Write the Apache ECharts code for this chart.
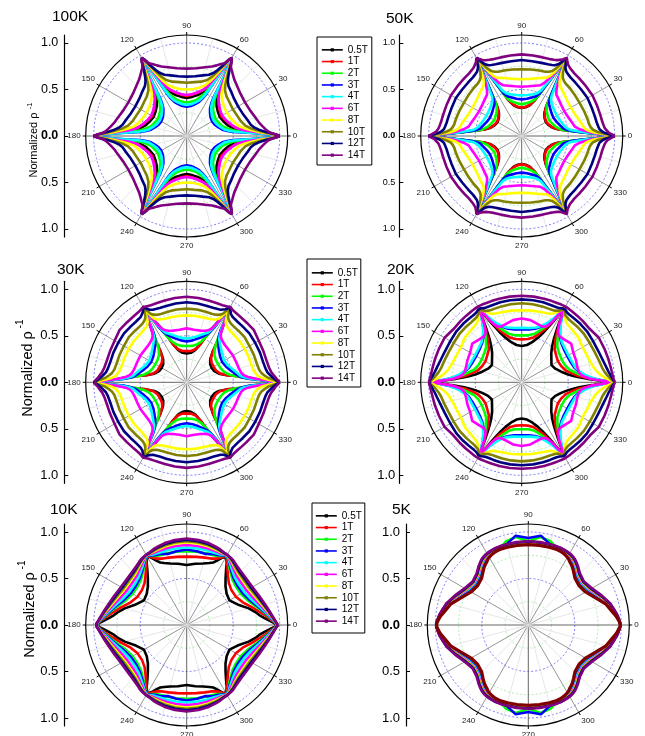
<!DOCTYPE html>
<html><head><meta charset="utf-8">
<script src="https://cdn.jsdelivr.net/npm/echarts@6/dist/echarts.min.js"></script>
<style>html,body{margin:0;padding:0;background:#fff}#c{width:645px;height:736px}</style>
</head><body><div id="c"></div>
<script>
// ---------------- DATA ----------------
const FIELDS = ['0.5T','1T','2T','3T','4T','6T','8T','10T','12T','14T'];
const COLORS = ['#000000','#ff0000','#00ff00','#0000ff','#00ffff','#ff00ff','#ffff00','#808000','#000080','#800080'];
const FIT_COLOR = '#800000';
// angles (deg) of the quadrant 0..90 at which radii are read
const ANGLES = [0,1,2,3,5,7,10,15,22,30,38,45,50,53,55,57,58,59,60,61,62,63,65,67,70,75,82,90];
const ANGLE_TICKS = [0,30,60,90,120,150,180,210,240,270,300,330];
const RADIUS_TICK_LABELS = ['1.0','0.5','0.0','0.5','1.0'];

// six-fold panels: profile from the 0deg tip (0..30deg) and from the 60deg tip toward 90deg
// (offsets 0,1,2,3,5,7,10,15,22,30 deg from the tip); rows follow FIELDS
const K100_TIP0 = [
 [1,.92,.82,.73,.62,.56,.50,.455,.425,.41],
 [1,.93,.84,.75,.645,.585,.53,.485,.45,.43],
 [1,.91,.80,.70,.57,.50,.45,.40,.375,.36],
 [1,.89,.77,.66,.50,.44,.39,.355,.325,.315],
 [1,.90,.78,.67,.52,.46,.41,.375,.345,.335],
 [1,.93,.84,.76,.65,.585,.53,.49,.455,.44],
 [1,.94,.86,.79,.70,.64,.58,.54,.51,.50],
 [1,.95,.88,.83,.75,.69,.64,.605,.585,.573],
 [1,.96,.90,.85,.78,.735,.70,.675,.648,.638],
 [1,.96,.91,.88,.85,.825,.795,.765,.735,.724]];
const K100_TIP60 = [
 [.97,.90,.81,.725,.62,.56,.50,.455,.425,.41],
 [.97,.91,.83,.745,.645,.585,.53,.485,.45,.43],
 [.97,.89,.79,.695,.57,.50,.45,.40,.375,.36],
 [.97,.87,.76,.655,.50,.44,.39,.355,.325,.315],
 [.97,.88,.77,.665,.52,.46,.41,.375,.345,.335],
 [.97,.91,.83,.755,.65,.585,.53,.49,.455,.44],
 [.97,.92,.85,.785,.70,.64,.58,.54,.51,.50],
 [.97,.93,.87,.825,.75,.69,.64,.605,.585,.573],
 [.97,.94,.89,.845,.78,.735,.70,.675,.648,.638],
 [.97,.94,.90,.875,.85,.825,.795,.765,.735,.724]];

const K50_TIP0 = [
 [1,.88,.78,.70,.58,.49,.405,.345,.312,.30],
 [1,.88,.78,.70,.58,.49,.41,.35,.318,.305],
 [1,.88,.77,.68,.57,.48,.42,.38,.355,.34],
 [1,.88,.77,.68,.57,.50,.455,.43,.405,.394],
 [1,.89,.79,.70,.60,.53,.49,.465,.445,.437],
 [1,.90,.81,.74,.67,.62,.58,.56,.54,.53],
 [1,.91,.83,.77,.71,.68,.665,.643,.62,.61],
 [1,.93,.87,.82,.77,.75,.735,.73,.722,.717],
 [1,.95,.90,.87,.84,.83,.82,.814,.812,.817],
 [1,.97,.94,.92,.90,.89,.88,.875,.874,.878]];
const K50_TIP60 = [
 [.97,.86,.77,.695,.58,.49,.405,.345,.312,.30],
 [.97,.86,.77,.695,.58,.49,.41,.35,.318,.305],
 [.97,.86,.76,.675,.57,.48,.42,.38,.355,.34],
 [.97,.86,.76,.675,.57,.50,.455,.43,.405,.394],
 [.97,.87,.78,.695,.60,.53,.49,.465,.445,.437],
 [.97,.88,.80,.735,.67,.62,.58,.56,.54,.53],
 [.97,.89,.82,.765,.71,.68,.665,.643,.62,.61],
 [.97,.91,.86,.815,.77,.75,.735,.73,.722,.717],
 [.97,.93,.89,.865,.84,.83,.82,.814,.812,.817],
 [.97,.95,.93,.915,.90,.89,.88,.875,.874,.878]];

const K30_TIP0 = [
 [1,.87,.79,.73,.64,.55,.44,.36,.32,.31],
 [1,.87,.78,.71,.62,.54,.44,.37,.34,.335],
 [1,.87,.77,.69,.60,.53,.47,.42,.395,.39],
 [1,.87,.77,.68,.60,.56,.53,.49,.455,.44],
 [1,.88,.78,.70,.62,.58,.555,.52,.48,.465],
 [1,.90,.81,.74,.66,.62,.595,.58,.575,.575],
 [1,.93,.87,.82,.77,.75,.73,.72,.72,.72],
 [1,.96,.92,.88,.84,.81,.79,.78,.78,.78],
 [1,.97,.95,.93,.90,.875,.86,.85,.85,.85],
 [1,.985,.97,.955,.935,.915,.90,.89,.89,.895]];
const K30_TIP60 = [
 [.94,.85,.78,.72,.63,.55,.44,.36,.32,.31],
 [.94,.85,.77,.70,.62,.54,.44,.37,.34,.335],
 [.94,.84,.75,.68,.60,.53,.47,.42,.395,.39],
 [.94,.84,.75,.67,.60,.56,.53,.49,.455,.44],
 [.94,.85,.76,.69,.62,.58,.555,.52,.485,.47],
 [.94,.84,.77,.71,.64,.61,.59,.575,.57,.58],
 [.94,.85,.80,.77,.745,.735,.725,.72,.72,.72],
 [.94,.88,.84,.82,.80,.79,.785,.785,.79,.792],
 [.94,.91,.89,.875,.86,.855,.85,.85,.855,.86],
 [.94,.93,.925,.92,.915,.912,.91,.91,.915,.92]];

const K20_TIP0 = [
 [1,.86,.78,.71,.62,.56,.50,.44,.39,.37],
 [1,.87,.80,.74,.66,.60,.55,.49,.46,.45],
 [1,.88,.81,.76,.69,.64,.59,.53,.50,.495],
 [1,.88,.82,.77,.71,.67,.63,.59,.57,.565],
 [1,.89,.83,.78,.72,.68,.64,.60,.585,.58],
 [1,.88,.80,.74,.68,.645,.625,.62,.63,.64],
 [1,.96,.93,.90,.86,.83,.80,.775,.76,.755],
 [1,.98,.96,.945,.92,.90,.88,.865,.85,.845],
 [1,.99,.98,.97,.955,.94,.925,.905,.89,.886],
 [1,.995,.99,.985,.98,.975,.97,.965,.96,.958]];
const K20_TIP60 = [
 [.92,.84,.77,.71,.63,.57,.51,.45,.405,.39],
 [.92,.85,.79,.74,.67,.61,.56,.50,.47,.462],
 [.92,.86,.80,.76,.70,.65,.60,.54,.51,.505],
 [.92,.85,.81,.77,.72,.68,.64,.60,.575,.57],
 [.92,.86,.82,.78,.73,.69,.65,.61,.59,.585],
 [.92,.85,.79,.74,.68,.65,.64,.65,.675,.685],
 [.92,.89,.87,.85,.82,.80,.79,.782,.778,.775],
 [.92,.89,.87,.86,.85,.845,.843,.845,.848,.85],
 [.92,.91,.90,.895,.89,.888,.888,.89,.891,.892],
 [.94,.94,.94,.938,.935,.933,.932,.931,.93,.93]];

// 10K and 5K: full quadrant radii at ANGLES
const K10_QUAD = [
 [.97,.95,.92,.89,.84,.80,.76,.69,.59,.53,.545,.59,.65,.70,.74,.79,.81,.83,.85,.84,.82,.80,.76,.73,.71,.685,.665,.645],
 [.97,.96,.94,.92,.88,.85,.80,.73,.65,.61,.61,.64,.69,.73,.76,.80,.82,.84,.855,.845,.83,.815,.79,.775,.76,.75,.74,.735],
 [.973,.963,.946,.929,.897,.871,.83,.772,.707,.672,.671,.694,.734,.766,.79,.82,.834,.849,.86,.854,.844,.834,.819,.81,.802,.799,.795,.794],
 [.974,.964,.948,.932,.902,.878,.84,.786,.726,.692,.691,.712,.748,.778,.80,.826,.839,.852,.862,.857,.848,.84,.828,.822,.816,.79,.80,.813],
 [.975,.965,.95,.935,.908,.885,.85,.80,.745,.713,.711,.73,.763,.79,.81,.833,.844,.855,.864,.86,.853,.847,.838,.834,.83,.831,.831,.833],
 [.977,.967,.953,.94,.916,.896,.865,.821,.774,.744,.741,.757,.785,.808,.825,.842,.851,.86,.866,.864,.86,.856,.852,.852,.851,.855,.858,.862],
 [.978,.968,.956,.943,.923,.905,.878,.839,.798,.771,.768,.78,.804,.824,.838,.851,.857,.863,.868,.868,.866,.864,.864,.867,.869,.876,.882,.887],
 [.979,.969,.957,.946,.927,.91,.885,.849,.812,.785,.782,.793,.814,.832,.845,.855,.861,.866,.869,.87,.869,.869,.871,.875,.879,.888,.895,.901],
 [.979,.969,.959,.948,.931,.915,.893,.86,.827,.802,.798,.807,.826,.842,.853,.86,.865,.868,.871,.872,.873,.874,.879,.885,.891,.901,.91,.917],
 [.98,.97,.96,.95,.935,.92,.90,.87,.84,.816,.812,.82,.836,.85,.86,.865,.868,.87,.872,.874,.876,.878,.885,.893,.90,.912,.922,.93]];

const K5_QUAD = [
 [.99,.986,.981,.972,.957,.939,.910,.872,.791,.722,.70,.721,.766,.796,.811,.825,.834,.843,.848,.852,.857,.861,.866,.87,.873,.871,.869,.87],
 [.99,.986,.981,.973,.959,.941,.914,.876,.798,.73,.708,.729,.774,.803,.818,.831,.84,.848,.853,.857,.861,.865,.87,.874,.876,.875,.872,.874],
 [.99,.987,.982,.974,.961,.945,.919,.883,.808,.742,.718,.74,.785,.813,.828,.841,.849,.856,.86,.864,.868,.871,.875,.879,.881,.93,.955,.90],
 [.99,.987,.982,.975,.962,.946,.921,.885,.812,.746,.722,.744,.789,.817,.832,.844,.852,.859,.863,.866,.87,.873,.877,.881,.882,.90,.97,.935],
 [.99,.988,.983,.976,.963,.949,.924,.89,.819,.754,.729,.751,.796,.824,.839,.851,.858,.864,.868,.871,.874,.877,.881,.884,.886,.885,.883,.884],
 [.99,.988,.983,.977,.965,.951,.928,.894,.826,.762,.736,.759,.804,.831,.846,.857,.864,.869,.873,.876,.879,.881,.885,.888,.889,.888,.887,.888],
 [.99,.989,.984,.978,.966,.954,.931,.899,.833,.77,.743,.766,.811,.838,.853,.864,.87,.875,.878,.88,.883,.885,.889,.891,.892,.892,.891,.891],
 [.99,.989,.984,.978,.967,.956,.934,.902,.837,.776,.747,.772,.817,.842,.857,.868,.874,.878,.881,.884,.886,.888,.891,.894,.894,.894,.893,.894],
 [.99,.99,.985,.979,.969,.958,.937,.906,.843,.782,.753,.778,.823,.848,.863,.874,.879,.883,.885,.887,.89,.891,.894,.897,.897,.897,.896,.897],
 [.99,.99,.985,.98,.97,.96,.94,.91,.85,.79,.76,.785,.83,.855,.87,.88,.885,.888,.89,.892,.894,.895,.898,.90,.90,.90,.90,.90]];
const K5_FIT = [.99,.985,.98,.97,.955,.935,.905,.865,.78,.71,.69,.71,.755,.785,.80,.815,.825,.835,.84,.845,.85,.855,.86,.865,.868,.866,.863,.865];

// ---------------- BUILD ----------------
function quadFromProfiles(a, c) { return a.concat(c.slice(0, 9).reverse(), c.slice(1)); }
function fullCircle(q) {
  const n = ANGLES.length, pts = [];
  for (let i = 0; i < n; i++) pts.push([q[i], ANGLES[i]]);
  for (let i = n - 2; i >= 0; i--) pts.push([q[i], 180 - ANGLES[i]]);
  for (let i = 1; i < n; i++) pts.push([q[i], 180 + ANGLES[i]]);
  for (let i = n - 2; i >= 0; i--) pts.push([q[i], 360 - ANGLES[i]]);
  return pts;
}
const QUADS = [
  K100_TIP0.map((a, i) => quadFromProfiles(a, K100_TIP60[i])),
  K50_TIP0.map((a, i) => quadFromProfiles(a, K50_TIP60[i])),
  K30_TIP0.map((a, i) => quadFromProfiles(a, K30_TIP60[i])),
  K20_TIP0.map((a, i) => quadFromProfiles(a, K20_TIP60[i])),
  K10_QUAD,
  K5_QUAD
];

const FONT = '"Liberation Sans", Arial, sans-serif';
const R_PX = 101, R_MAX = 1.086;
const LAYOUT = [
  {title:'100K', tx:52, ty:9,   cx:186.7, cy:136,   ax:64.3, lfs:12.5, lm:6},
  {title:'50K',  tx:386, ty:11, cx:521.7, cy:136,   ax:399.3, lfs:9,  lm:4},
  {title:'30K',  tx:57, ty:262, cx:186.7, cy:382.3, ax:64.3, lfs:13,  lm:6},
  {title:'20K',  tx:387, ty:262,cx:521.7, cy:382.3, ax:399.3, lfs:13, lm:4},
  {title:'10K',  tx:50, ty:502, cx:186.7, cy:625,   ax:64.3, lfs:13,  lm:6},
  {title:'5K',   tx:392, ty:502,cx:528.3, cy:625,   ax:406,  lfs:13,  lm:6}
];
const YNAMES = [
  {x:34, y:145, fs:11, sx:29.5, sy:106, sfs:7.5},
  {x:27.5, y:374, fs:14.5, sx:20.5, sy:324, sfs:10},
  {x:29.5, y:615, fs:14.5, sx:22.5, sy:565, sfs:10}
];
const LEGENDS = [
  {left:317, top:37, padding:[7,4,4,4]},
  {left:307, top:259, padding:[8,3,3,4]},
  {left:312, top:503, padding:[7,3,6,3]}
];
const TICK_VALUES = [1, 0.5, 0, -0.5, -1];

const polar = [], angleAxis = [], radiusAxis = [], grid = [], xAxis = [], yAxis = [], title = [], series = [];
LAYOUT.forEach((p, i) => {
  polar.push({center:[p.cx, p.cy], radius:R_PX});
  angleAxis.push({
    polarIndex:i, type:'value', min:0, max:360, interval:30, startAngle:0, clockwise:false,
    axisLine:{lineStyle:{color:'#000', width:1.2}},
    axisTick:{show:true, length:3, lineStyle:{color:'#000', width:1}},
    axisLabel:{fontSize:8, color:'#222', margin:5, fontFamily:FONT,
      formatter: v => ANGLE_TICKS.indexOf(v) >= 0 ? String(v) : ''},
    splitLine:{show:true, lineStyle:{color:['#555','#8a8a8a','#8a8a8a'], width:0.9}},
    minorTick:{show:false, splitNumber:2},
    minorSplitLine:{show:true, lineStyle:{color:'#e0e0e0', width:0.8}}
  });
  radiusAxis.push({
    polarIndex:i, type:'value', min:0, max:R_MAX, interval:0.25,
    axisLine:{show:false}, axisTick:{show:false}, axisLabel:{show:false},
    splitLine:{show:true, lineStyle:{color:['rgba(0,0,0,0)','#9be89b','#5b5bff','#9be89b','#5b5bff','rgba(0,0,0,0)'], type:[2,2], width:0.8}}
  });
  grid.push({left:p.ax, top:p.cy - R_PX, width:1, height:2 * R_PX});
  xAxis.push({gridIndex:i, type:'value', show:false});
  yAxis.push({
    gridIndex:i, type:'value', min:-R_MAX, max:R_MAX, position:'left',
    axisLine:{show:true, lineStyle:{color:'#000', width:1.2}},
    axisTick:{show:true, inside:true, length:4, customValues:TICK_VALUES, lineStyle:{color:'#000'}},
    axisLabel:{customValues:TICK_VALUES, fontSize:p.lfs, margin:p.lm, color:'#000', fontFamily:FONT,
      formatter: v => { const s = RADIUS_TICK_LABELS[TICK_VALUES.indexOf(v)] || Math.abs(v).toFixed(1); return v === 0 ? '{b|' + s + '}' : s; },
      rich:{b:{fontWeight:'bold', fontSize:p.lfs, fontFamily:FONT, color:'#000'}}},
    splitLine:{show:false}
  });
  title.push({text:p.title, left:p.tx, top:p.ty, padding:0,
    textStyle:{fontSize:15.5, fontWeight:'normal', color:'#000', fontFamily:FONT}});
  QUADS[i].forEach((q, k) => {
    series.push({
      name:FIELDS[k], type:'line', coordinateSystem:'polar', polarIndex:i,
      data:fullCircle(q), showSymbol:false, symbol:'rect', symbolSize:3,
      color:COLORS[k], lineStyle:{width:2.6, color:COLORS[k]}, animation:false, silent:true
    });
  });
});
series.push({name:'fit', type:'line', coordinateSystem:'polar', polarIndex:5,
  data:fullCircle(K5_FIT), showSymbol:false, symbol:'none', color:FIT_COLOR,
  lineStyle:{width:3.2, color:FIT_COLOR}, animation:false, silent:true});

const legend = LEGENDS.map(l => ({
  data:FIELDS, orient:'vertical', left:l.left, top:l.top, padding:l.padding,
  itemWidth:21, itemHeight:4, itemGap:0, itemTextGap:3, selectedMode:false,
  borderColor:'#000', borderWidth:1, backgroundColor:'#fff',
  lineStyle:{width:1.6},
  textStyle:{fontSize:10, lineHeight:11.7, color:'#000', fontFamily:FONT}
}));

const graphic = [];
YNAMES.forEach(y => {
  graphic.push({type:'text', x:y.x, y:y.y, rotation:Math.PI / 2,
    style:{text:'Normalized ρ', font:y.fs + 'px ' + FONT, fill:'#000', align:'center', verticalAlign:'middle'}});
  graphic.push({type:'text', x:y.sx, y:y.sy, rotation:Math.PI / 2,
    style:{text:'-1', font:y.sfs + 'px ' + FONT, fill:'#000', align:'center', verticalAlign:'middle'}});
});

const chart = echarts.init(document.getElementById('c'), null, {renderer:'canvas'});
chart.setOption({
  animation:false, backgroundColor:'#fff',
  title, polar, angleAxis, radiusAxis, grid, xAxis, yAxis, legend, graphic, series
});
</script></body></html>
